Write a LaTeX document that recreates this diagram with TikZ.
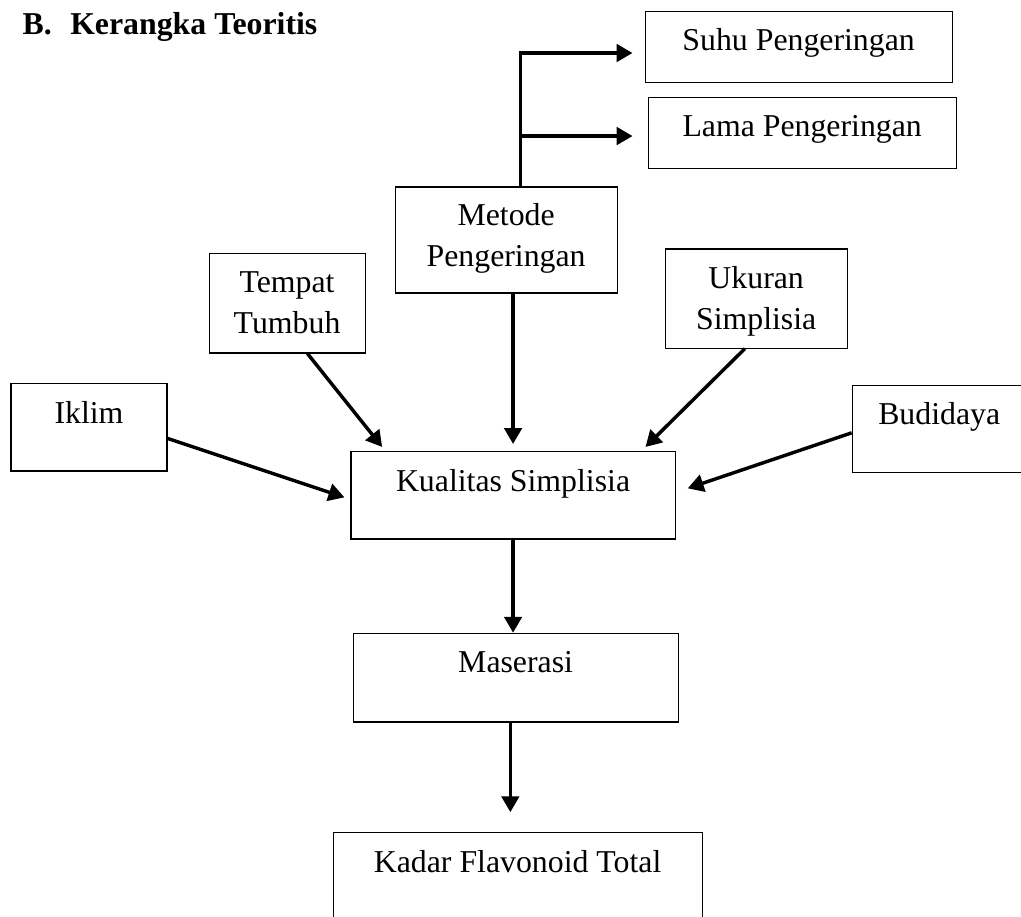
\documentclass[tikz,border=0pt]{standalone}
\usepackage{fontspec}
\setmainfont{Liberation Serif}
\usetikzlibrary{arrows.meta}

\tikzset{
  box/.style={draw, line width=0.4pt, align=center, inner ysep=0pt,
    text height=15pt, text depth=#1, font=\fontsize{12pt}{15.4pt}\selectfont},
  twolines/.style={text height=30.2pt},
  arr/.style={line width=1.3pt, -{Triangle[length=6pt,width=6.6pt]}}
}

\begin{document}
\begin{tikzpicture}
					% Fix the page and cut what runs over its edge
					\useasboundingbox (0,0) rectangle (13.54,-12.15);
					\clip (0,0) rectangle (13.54,-12.15);

					% Heading
					\node[anchor=base west, inner sep=0pt, font=\bfseries\fontsize{12pt}{14pt}\selectfont] (judul) at (0.292,-0.451) {B.\hspace{7pt}Kerangka Teoritis};

					% Draw the boxes
					\node[box=12.1pt, minimum width=4.072cm] (suhu) at (10.591,-0.623) {Suhu Pengeringan};
					\node[box=12.1pt, minimum width=4.085cm] (lama) at (10.638,-1.764) {Lama Pengeringan};
					\node[box=10pt, twolines, text height=30pt, minimum width=2.945cm] (metode) at (6.712,-3.183) {Metode\\Pengeringan};
					\node[box=7.5pt, twolines, minimum width=2.069cm] (tempat) at (3.807,-4.019) {Tempat\\Tumbuh};
					\node[box=7.2pt, twolines, minimum width=2.414cm] (ukuran) at (10.028,-3.959) {Ukuran\\Simplisia};
					\node[box=18.1pt, minimum width=2.069cm] (iklim) at (1.180,-5.664) {Iklim};
					\node[box=18.1pt, minimum width=4.298cm] (kualitas) at (6.804,-6.566) {Kualitas Simplisia};
					\node[box=18.1pt, minimum width=2.308cm] (budidaya) at (12.455,-5.690) {Budidaya};
					\node[box=18.5pt, minimum width=4.311cm] (maserasi) at (6.838,-8.986) {Maserasi};
					\node[box=18.1pt, minimum width=4.894cm] (kadar) at (6.864,-11.619) {Kadar Flavonoid Total};

					% Branches out of the drying method
					\coordinate (trunk) at ([xshift=0.19cm]metode.north);
					\coordinate (suhuin) at ([shift={(-0.16,-0.08)}]suhu.west);
					\coordinate (lamain) at ([shift={(-0.20,-0.04)}]lama.west);
					\draw[arr] (trunk) |- (suhuin);
					\draw[arr] (trunk |- lamain) -- (lamain);

					% Factors into the quality of the simplisia
					\draw[arr] (kualitas.north |- metode.south) -- ([yshift=0.09cm]kualitas.north);
					\draw[arr] ([xshift=0.27cm]tempat.south) -- ([shift={(0.42,0.05)}]kualitas.north west);
					\draw[arr] ([yshift=-0.15cm]iklim.east) -- ([shift={(-0.08,-0.03)}]kualitas.west);
					\draw[arr] ([xshift=-0.15cm]ukuran.south) -- ([shift={(-0.40,0.05)}]kualitas.north east);
					\draw[arr] ([yshift=-0.05cm]budidaya.west) -- ([shift={(0.16,0.09)}]kualitas.east);

					% Down to the result
					\draw[arr] (kualitas.south) -- (kualitas.south |- maserasi.north);
					\draw[arr] ([xshift=-0.07cm]maserasi.south) -- ([shift={(-0.07,0.26)}]maserasi.south |- kadar.north);
				\end{tikzpicture}
\end{document}
